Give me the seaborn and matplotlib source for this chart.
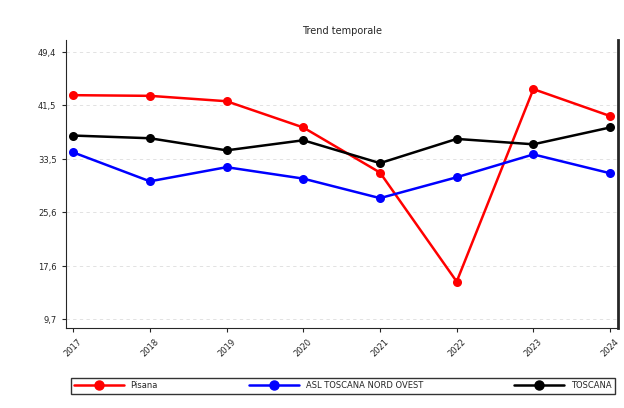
import matplotlib
matplotlib.use("Agg")
import matplotlib.pyplot as plt
from matplotlib.lines import Line2D
import seaborn as sns
import pandas as pd

years = ["2017","2018","2019","2020","2021","2022","2023","2024"]
pisana = [43.0, 42.9, 42.1, 38.2, 31.5, 15.3, 43.9, 39.9]
asl = [34.5, 30.2, 32.3, 30.6, 27.7, 30.8, 34.2, 31.4]
toscana = [37.0, 36.6, 34.8, 36.3, 32.9, 36.5, 35.7, 38.2]
series_names = ["Pisana", "ASL TOSCANA NORD OVEST", "TOSCANA"]
colors = ["#ff0000", "#0000ff", "#000000"]
yticks = [9.7, 17.6, 25.6, 33.5, 41.5, 49.4]

df = pd.DataFrame({"year": years * 3,
                   "val": pisana + asl + toscana,
                   "serie": sum([[n]*len(years) for n in series_names], [])})

sns.set_style("white")
fig = plt.figure(figsize=(6.24, 4.08), dpi=100)
ax = fig.add_axes([0.105, 0.196, 0.885, 0.706])
sns.lineplot(data=df, x="year", y="val", hue="serie", hue_order=series_names,
             palette=colors, marker="o", markersize=6.5, markeredgewidth=0,
             linewidth=1.8, ax=ax, sort=False, legend=False)
ax.set_xlim(-0.1, 7.1)
ax.set_ylim(8.4, 51.2)
ax.set_yticks(yticks)
ax.set_yticklabels([str(t).replace(".", ",") for t in yticks], fontsize=6)
ax.tick_params(axis="x", labelsize=6, rotation=45, length=3, bottom=True)
ax.tick_params(axis="y", length=3, left=True)
for t in yticks:
    ax.axhline(t, color="#dddddd", lw=0.6, ls=(0, (4, 4)), zorder=0)
ax.set_xlabel(""); ax.set_ylabel("")
ax.set_title("Trend temporale", fontsize=7, pad=4)
ax.spines["top"].set_visible(False)
ax.spines["right"].set_linewidth(2)
handles = [Line2D([], [], color=c, marker="o", markersize=6.5, lw=1.8) for c in colors]
fig.legend(handles, series_names, loc="lower left",
           bbox_to_anchor=(0.113, 0.035, 0.872, 0.065), ncol=3, fontsize=6,
           frameon=True, fancybox=False, edgecolor="black", mode="expand",
           handlelength=6, borderaxespad=0)
fig.savefig("out.png", dpi=100)
